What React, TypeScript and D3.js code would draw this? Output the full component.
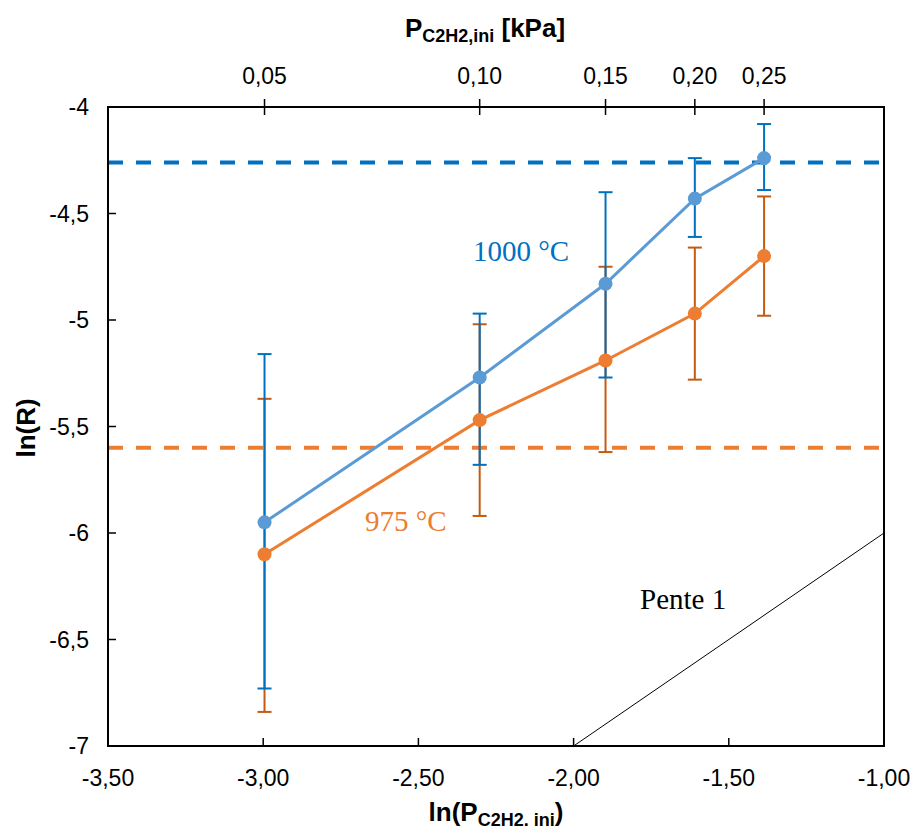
import React from "react";
import * as d3 from "d3";

const pressures = [0.05, 0.1, 0.15, 0.2, 0.25];
const pressureLabels = ["0,05", "0,10", "0,15", "0,20", "0,25"];
const blueY = [-5.95, -5.27, -4.83, -4.43, -4.24];
const blueErrHigh = [-5.16, -4.97, -4.4, -4.24, -4.08];
const blueErrLow = [-6.73, -5.68, -5.27, -4.61, -4.39];
const orangeY = [-6.1, -5.47, -5.19, -4.97, -4.7];
const orangeErrHigh = [-5.37, -5.02, -4.75, -4.66, -4.42];
const orangeErrLow = [-6.84, -5.92, -5.62, -5.28, -4.98];
const blueRef = -4.26;
const orangeRef = -5.6;
const xTicks = [-3.5, -3.0, -2.5, -2.0, -1.5, -1.0];
const yTicks = [-4, -4.5, -5, -5.5, -6, -6.5, -7];
const slopeLine = [
  [-2.0, -7.0],
  [-1.0, -6.0],
];

const W = 915;
const H = 829;
const L = 108;
const R = 884;
const T = 107;
const B = 746;

const fmtX = (v: number) => v.toFixed(2).replace(".", ",");
const fmtY = (v: number) => String(v).replace(".", ",");

export default function App() {
  const x = d3.scaleLinear().domain([-3.5, -1.0]).range([L, R]);
  const y = d3.scaleLinear().domain([-4, -7]).range([T, B]);
  const xs = pressures.map((p) => Math.log(p));
  const line = d3
    .line<[number, number]>()
    .x((d) => x(d[0]))
    .y((d) => y(d[1]));
  const blueColor = "#5B9BD5";
  const orangeColor = "#ED7D31";
  const blueErr = "#0070C0";
  const orangeErr = "#C55A11";
  const font = "'Liberation Sans', Arial, sans-serif";
  const serif = "'Liberation Serif', serif";
  const cap = 7;

  const errBars = (hi: number[], lo: number[], color: string, key: string) =>
    xs.map((xv, i) => (
      <g key={key + i} stroke={color} strokeWidth={2}>
        <line x1={x(xv)} x2={x(xv)} y1={y(hi[i])} y2={y(lo[i])} />
        <line x1={x(xv) - cap} x2={x(xv) + cap} y1={y(hi[i])} y2={y(hi[i])} />
        <line x1={x(xv) - cap} x2={x(xv) + cap} y1={y(lo[i])} y2={y(lo[i])} />
      </g>
    ));

  return (
    <svg width={W} height={H} style={{ position: "absolute", left: 0, top: 0 }}>
      <rect width={W} height={H} fill="#fff" />
      <path
        d={line(slopeLine as [number, number][]) || ""}
        stroke="#000"
        strokeWidth={1}
        fill="none"
      />
      <line x1={L} x2={R} y1={y(blueRef)} y2={y(blueRef)} stroke={blueErr} strokeWidth={4} strokeDasharray="15,13" />
      <line x1={L} x2={R} y1={y(orangeRef)} y2={y(orangeRef)} stroke={orangeColor} strokeWidth={4} strokeDasharray="15,13" />
      {errBars(orangeErrHigh, orangeErrLow, orangeErr, "o")}
      {errBars(blueErrHigh, blueErrLow, blueErr, "b")}
      <path d={line(xs.map((v, i) => [v, orangeY[i]]) as [number, number][]) || ""} stroke={orangeColor} strokeWidth={3} fill="none" />
      {xs.map((v, i) => (
        <circle key={"oc" + i} cx={x(v)} cy={y(orangeY[i])} r={7} fill={orangeColor} />
      ))}
      <path d={line(xs.map((v, i) => [v, blueY[i]]) as [number, number][]) || ""} stroke={blueColor} strokeWidth={3} fill="none" />
      {xs.map((v, i) => (
        <circle key={"bc" + i} cx={x(v)} cy={y(blueY[i])} r={7} fill={blueColor} />
      ))}
      <rect x={L} y={T} width={R - L} height={B - T} fill="none" stroke="#000" strokeWidth={2} />
      {yTicks.map((t) => (
        <g key={"y" + t}>
          <line x1={L} x2={L + 8} y1={y(t)} y2={y(t)} stroke="#000" strokeWidth={1.5} />
          <text x={89} y={y(t)} dy="0.36em" textAnchor="end" fontFamily={font} fontSize={23}>
            {fmtY(t)}
          </text>
        </g>
      ))}
      {xTicks.map((t) => (
        <g key={"x" + t}>
          <line x1={x(t)} x2={x(t)} y1={B} y2={B - 8} stroke="#000" strokeWidth={1.5} />
          <text x={x(t)} y={786} textAnchor="middle" fontFamily={font} fontSize={23}>
            {fmtX(t)}
          </text>
        </g>
      ))}
      {xs.map((v, i) => (
        <g key={"t" + i}>
          <line x1={x(v)} x2={x(v)} y1={T - 8} y2={T + 8} stroke="#000" strokeWidth={1.5} />
          <text x={x(v)} y={84} textAnchor="middle" fontFamily={font} fontSize={23}>
            {pressureLabels[i]}
          </text>
        </g>
      ))}
      <text x={485} y={37} textAnchor="middle" fontFamily={font} fontSize={26} fontWeight="bold">
        P<tspan fontSize={18} dy={5}>C2H2,ini</tspan>
        <tspan dy={-5}> [kPa]</tspan>
      </text>
      <text x={496} y={821} textAnchor="middle" fontFamily={font} fontSize={26} fontWeight="bold">
        ln(P<tspan fontSize={18} dy={5}>C2H2. ini</tspan>
        <tspan dy={-5}>)</tspan>
      </text>
      <text
        transform={`translate(35,428) rotate(-90)`}
        textAnchor="middle"
        fontFamily={font}
        fontSize={26}
        fontWeight="bold"
      >
        ln(R)
      </text>
      <text x={473} y={261} fontFamily={serif} fontSize={29} fill={blueErr}>
        1000 °C
      </text>
      <text x={365} y={531} fontFamily={serif} fontSize={29} fill={orangeColor}>
        975 °C
      </text>
      <text x={640} y={609} fontFamily={serif} fontSize={29} fill="#000">
        Pente 1
      </text>
    </svg>
  );
}
